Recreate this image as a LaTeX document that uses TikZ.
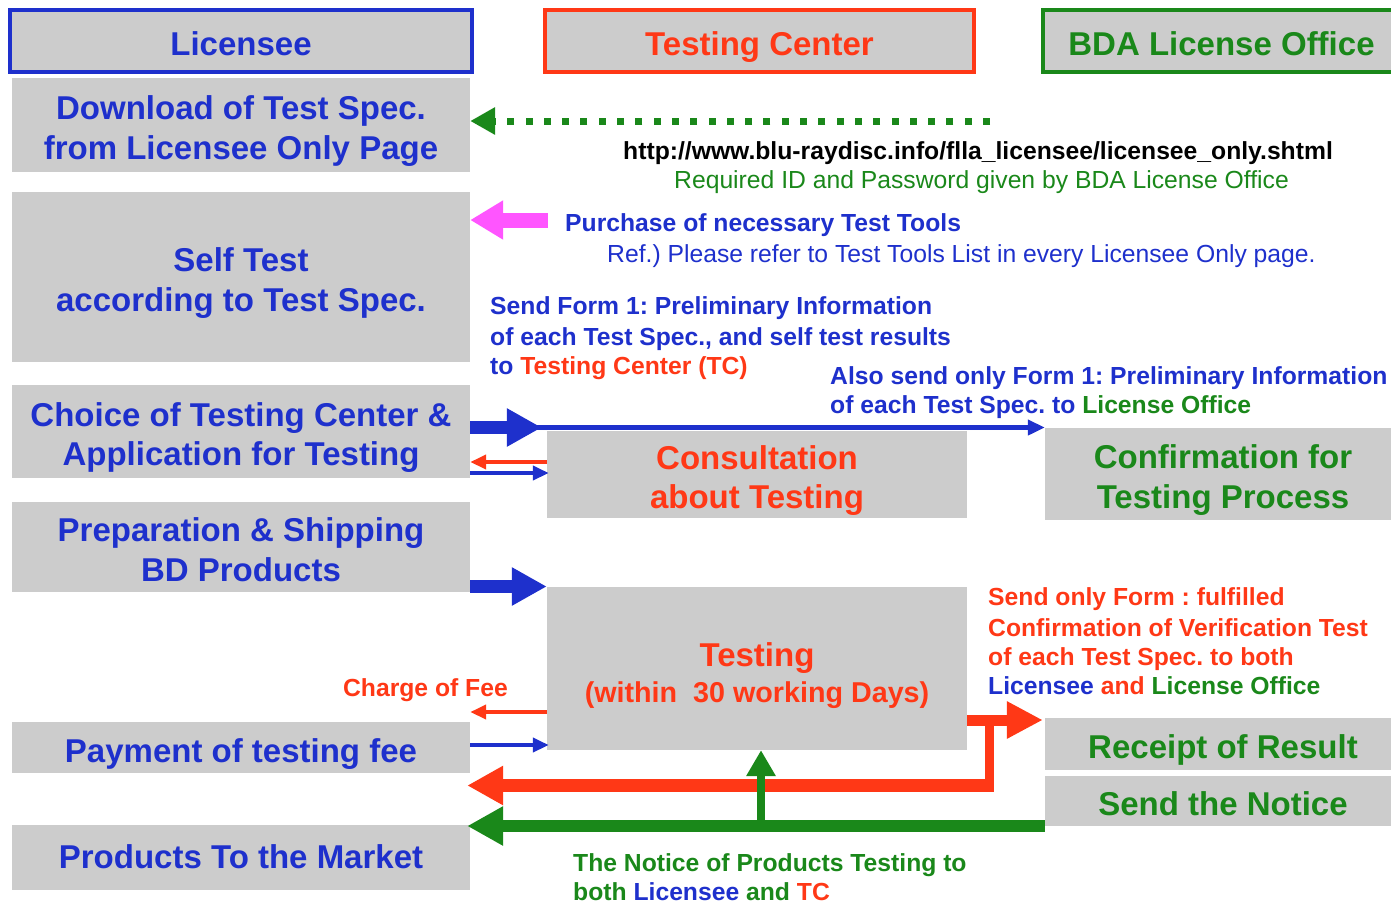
\documentclass[tikz,border=0pt]{standalone}
\usepackage{fontspec}
\setmainfont{Liberation Sans}
\usetikzlibrary{arrows.meta}
\frenchspacing
\definecolor{cblue}{RGB}{30,48,204}
\definecolor{cred}{RGB}{255,56,22}
\definecolor{cgreen}{RGB}{26,136,26}
\definecolor{cmag}{RGB}{255,85,255}
\definecolor{cgray}{RGB}{204,204,204}
\begin{document}
\begin{tikzpicture}[x=1pt,y=-1pt,
  box/.style={fill=cgray, draw=none, inner sep=0pt, align=center,
    font=\bfseries\fontsize{33}{39.5}\selectfont,
    execute at begin node={\rule{0pt}{#1}},
    execute at end node={\rule[-9pt]{0pt}{9pt}}},
  box/.default=38pt,
  headbox/.style={box, line width=4pt},
  small/.style={inner sep=0pt, anchor=base west, font=\bfseries\fontsize{24.7}{29.6}\selectfont},
  smallreg/.style={inner sep=0pt, anchor=base west, font=\fontsize{24.7}{29.6}\selectfont},
  fatarrow/.style={line width=12.5pt, -{Triangle[length=35pt,width=36pt]}},
  thinarrow/.style={line width=4.5pt, -{Triangle[length=16pt,width=14pt]}},
]
\useasboundingbox (0,0) rectangle (1391,903);

% headers
\node[headbox, draw=cblue, text=cblue, minimum width=462pt, minimum height=62pt] (hlic) at (241,41) {Licensee};
\node[headbox, draw=cred, text=cred, minimum width=429pt, minimum height=62pt] (htc) at (759.5,41) {Testing Center};
\node[headbox, draw=cgreen, text=cgreen, minimum width=357pt, minimum height=62pt] (hbda) at (1221.5,41) {BDA License Office};

% licensee column
\node[box=77.5pt, text=cblue, minimum width=458pt, minimum height=94pt] (dl) at (241,125) {Download of Test Spec.\\from Licensee Only Page};
\node[box=77.5pt, text=cblue, minimum width=458pt, minimum height=170pt] (self) at (241,277) {Self Test\\according to Test Spec.};
\node[box=77.5pt, text=cblue, minimum width=458pt, minimum height=93pt] (choice) at (241,431.5) {Choice of Testing Center \&\\Application for Testing};
\node[box=77.5pt, text=cblue, minimum width=458pt, minimum height=90pt] (prep) at (241,547) {Preparation \& Shipping\\BD Products};
\node[box, text=cblue, minimum width=458pt, minimum height=51pt] (pay) at (241,747.5) {Payment of testing fee};
\node[box=30pt, text=cblue, minimum width=458pt, minimum height=65pt] (prod) at (241,857.5) {Products To the Market};

% testing center column
\node[box=77.5pt, text=cred, minimum width=420pt, minimum height=85pt] (consult) at (757,474.5) {Consultation\\about Testing};
\node[box=76pt, text=cred, minimum width=420pt, minimum height=163pt] (testing) at (757,668.5) {Testing\\[-3.5pt]{\fontsize{28.7}{34}\selectfont (within\ \ 30 working Days)}};

% BDA column
\node[box=77.5pt, text=cgreen, minimum width=356pt, minimum height=92pt] (confirm) at (1223,474) {Confirmation for\\Testing Process};
\node[box, text=cgreen, minimum width=356pt, minimum height=52pt] (receipt) at (1223,744) {Receipt of Result};
\node[box, text=cgreen, minimum width=356pt, minimum height=50pt] (notice) at (1223,801) {Send the Notice};

% texts
\node[small, text=black] (url) at (623,159) {http://www.blu-raydisc.info/flla\_licensee/licensee\_only.shtml};
\node[smallreg, text=cgreen] (req) at (674,188) {Required ID and Password given by BDA License Office};
\node[small, text=cblue] (purch) at (565,231) {Purchase of necessary Test Tools};
\node[smallreg, text=cblue] (ref) at (607,262) {Ref.) Please refer to Test Tools List in every Licensee Only page.};
\node[small, text=cblue] (sf1) at (490,314) {Send Form 1: Preliminary Information};
\node[small, text=cblue] (sf2) at (490,345) {of each Test Spec., and self test results};
\node[small, text=cblue] (sf3) at (490,374) {to \textcolor{cred}{Testing Center (TC)}};
\node[small, text=cblue] (as1) at (830,384) {Also send only Form 1: Preliminary Information};
\node[small, text=cblue] (as2) at (830,413) {of each Test Spec. to \textcolor{cgreen}{License Office}};
\node[small, text=cred, anchor=base east] (fee) at (508,696) {Charge of Fee};
\node[small, text=cred] (so1) at (988,605) {Send only Form : fulfilled};
\node[small, text=cred] (so2) at (988,636) {Confirmation of Verification Test};
\node[small, text=cred] (so3) at (988,665) {of each Test Spec. to both};
\node[small, text=cred] (so4) at (988,694) {\textcolor{cblue}{Licensee} and \textcolor{cgreen}{License Office}};
\node[small, text=cgreen] (tn1) at (573,871) {The Notice of Products Testing to};
\node[small, text=cgreen] (tn2) at (573,900) {both \textcolor{cblue}{Licensee} and \textcolor{cred}{TC}};

% coordinates
\coordinate (gd) at (990,121);
\coordinate (mg) at (548,220);
\coordinate (c1) at (0,427.5);
\coordinate (bl) at (530,427.5);
\coordinate (r1) at (0,462);
\coordinate (b1) at (0,473);
\coordinate (c2) at (0,586.5);
\coordinate (r2) at (0,712);
\coordinate (b2) at (0,745);
\coordinate (rr) at (0,720);
\coordinate (rv1) at (989,715);
\coordinate (rv2) at (989,791.5);
\coordinate (rh) at (993,785.5);
\coordinate (gh) at (0,826);
\coordinate (gv) at (761,829);

% connectors
\draw[cgreen, line width=7pt, dash pattern=on 7pt off 11.3pt, -{Triangle[length=25pt,width=26pt]}] (gd) -- (dl.east |- gd);
\draw[cmag, line width=15pt, -{Triangle[length=33pt,width=37pt]}] (mg) -- (self.east |- mg);
\draw[cblue, line width=4.5pt, -{Triangle[length=17pt,width=15pt]}] (bl) -- (confirm.west |- bl);
\draw[cblue, fatarrow] (choice.east |- c1) -- ([xshift=-5pt]consult.west |- c1);
\draw[cred, thinarrow] (consult.west |- r1) -- (choice.east |- r1);
\draw[cblue, thinarrow] (choice.east |- b1) -- ([xshift=2pt]consult.west |- b1);
\draw[cblue, fatarrow] (prep.east |- c2) -- (testing.west |- c2);
\draw[cred, thinarrow] (testing.west |- r2) -- (pay.east |- r2);
\draw[cblue, thinarrow] (pay.east |- b2) -- ([xshift=2pt]testing.west |- b2);
\draw[cred, line width=11pt, -{Triangle[length=36pt,width=35pt]}] (testing.east |- rr) -- ([xshift=-2pt]receipt.west |- rr);
\draw[cred, line width=9pt] (rv1) -- (rv2);
\draw[cred, line width=12.5pt, -{Triangle[length=36pt,width=37pt]}] (rh) -- ([xshift=-3pt]prod.east |- rh);
\draw[cgreen, line width=12pt, -{Triangle[length=36pt,width=37pt]}] (notice.west |- gh) -- ([xshift=-3pt]prod.east |- gh);
\draw[cgreen, line width=8pt, -{Triangle[length=26pt,width=28pt]}] (gv) -- (gv |- testing.south);
\end{tikzpicture}
\end{document}
